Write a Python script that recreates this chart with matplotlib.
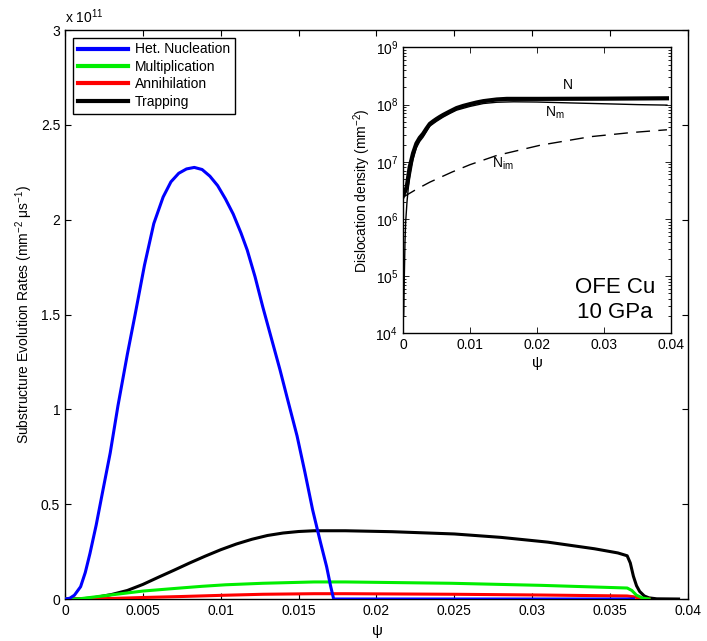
import numpy as np
from matplotlib import pyplot as plt
from matplotlib.ticker import LogLocator, NullFormatter

plt.rcParams['font.family'] = ['Liberation Sans', 'DejaVu Sans']
plt.rcParams['mathtext.fontset'] = 'custom'
plt.rcParams['mathtext.rm'] = 'Liberation Sans'
plt.rcParams['mathtext.it'] = 'Liberation Sans'

# main panel: rates in units of 1e11 mm^-2 us^-1
psi_het = [0, 0.0003, 0.0006, 0.001, 0.0013, 0.0016, 0.002, 0.0024, 0.0029, 0.0034,
           0.004, 0.0045, 0.0051, 0.0057, 0.0063, 0.0068, 0.0073, 0.0078, 0.0083,
           0.0088, 0.0093, 0.0098, 0.0103, 0.0108, 0.0113, 0.0117, 0.0122, 0.0127,
           0.0133, 0.0138, 0.0143, 0.0149, 0.0154, 0.0159, 0.0164, 0.0168, 0.01705,
           0.01725, 0.0365]
het = [0, 0.004, 0.02, 0.065, 0.14, 0.24, 0.39, 0.56, 0.77, 1.02,
       1.29, 1.50, 1.76, 1.98, 2.12, 2.20, 2.245, 2.268, 2.276,
       2.265, 2.23, 2.18, 2.11, 2.03, 1.93, 1.84, 1.70, 1.54,
       1.36, 1.21, 1.05, 0.86, 0.67, 0.47, 0.30, 0.17, 0.07,
       0, 0]

psi_mult = [0, 0.0008, 0.0016, 0.0029, 0.004, 0.005, 0.0062, 0.0074, 0.0088, 0.0103,
            0.0127, 0.016, 0.018, 0.0248, 0.0306, 0.0361, 0.0364, 0.0367, 0.0371, 0.0375]
mult = [0, 0, 0.008, 0.021, 0.032, 0.042, 0.050, 0.058, 0.067, 0.075,
        0.083, 0.09, 0.09, 0.083, 0.072, 0.058, 0.045, 0.02, 0.005, 0]

psi_ann = [0, 0.0015, 0.003, 0.005, 0.0074, 0.0103, 0.0127, 0.016, 0.018, 0.025,
           0.0306, 0.0361, 0.0365, 0.0369, 0.0375]
ann = [0, 0, 0.003, 0.008, 0.013, 0.02, 0.025, 0.028, 0.028, 0.025,
       0.021, 0.016, 0.012, 0.004, 0]

psi_trap = [0, 0.001, 0.0015, 0.002, 0.003, 0.004, 0.005, 0.006, 0.007, 0.008,
            0.009, 0.010, 0.011, 0.012, 0.013, 0.014, 0.015, 0.016, 0.018, 0.021,
            0.025, 0.028, 0.031, 0.034, 0.0355, 0.0361, 0.0363, 0.0365, 0.0367,
            0.0369, 0.0372, 0.0375, 0.038, 0.0394]
trap = [0, 0.001, 0.004, 0.009, 0.024, 0.045, 0.077, 0.115, 0.152, 0.19,
        0.226, 0.26, 0.29, 0.315, 0.335, 0.348, 0.356, 0.36, 0.36, 0.355,
        0.343, 0.325, 0.30, 0.265, 0.243, 0.228, 0.19, 0.12, 0.07,
        0.04, 0.016, 0.006, 0.001, 0]

# inset: dislocation densities (mm^-2)
psi_N = [0, 0.00055, 0.001, 0.0015, 0.002, 0.0025, 0.003, 0.0035, 0.004, 0.0045,
         0.005, 0.0055, 0.006, 0.007, 0.008, 0.009, 0.010, 0.011, 0.012, 0.013,
         0.014, 0.0155, 0.0204, 0.03, 0.0394]
N = [2.5e6, 3.6e6, 8.1e6, 1.41e7, 2.09e7, 2.63e7, 3.09e7, 3.8e7, 4.6e7, 5.1e7,
     5.6e7, 6.1e7, 6.6e7, 7.6e7, 8.7e7, 9.5e7, 1.02e8, 1.09e8, 1.15e8, 1.19e8,
     1.23e8, 1.26e8, 1.26e8, 1.27e8, 1.29e8]

psi_Nm = [0.0001, 0.0002, 0.0003, 0.0004, 0.0006, 0.0008, 0.001, 0.0015, 0.002, 0.0025,
          0.003, 0.004, 0.005, 0.006, 0.007, 0.008, 0.010, 0.012, 0.014, 0.0165,
          0.020, 0.025, 0.030, 0.035, 0.0394]
Nm = [2.0e4, 1.0e5, 4.0e5, 8.9e5, 2.0e6, 3.55e6, 5.2e6, 1.1e7, 1.76e7, 2.27e7,
      2.7e7, 4.2e7, 5.1e7, 6.05e7, 7.0e7, 8.0e7, 9.3e7, 1.045e8, 1.10e8, 1.12e8,
      1.11e8, 1.07e8, 1.035e8, 1.0e8, 9.8e7]

psi_Nim = [0, 0.0005, 0.002, 0.004, 0.0073, 0.010, 0.014, 0.0205, 0.028, 0.034, 0.0394]
Nim = [2.4e6, 2.6e6, 3.3e6, 4.4e6, 6.6e6, 8.9e6, 1.29e7, 1.95e7, 2.75e7, 3.24e7, 3.63e7]

fig = plt.figure(figsize=(7.07, 6.41), dpi=100)
ax = fig.add_axes([0.092, 0.0655, 0.881, 0.8875])

ax.plot(psi_trap, trap, color='k', lw=2.2, label='Trapping', zorder=2)
ax.plot(psi_ann, ann, color='r', lw=2.2, label='Annihilation', zorder=3)
ax.plot(psi_mult, mult, color='#00ee00', lw=2.2, label='Multiplication', zorder=3)
ax.plot(psi_het, het, color='b', lw=2.2, label='Het. Nucleation', zorder=4)

ax.set_xlim(0, 0.04)
ax.set_ylim(0, 3)
ax.set_xticks(np.arange(0, 0.0401, 0.005))
ax.set_xticklabels(['0', '0.005', '0.01', '0.015', '0.02', '0.025', '0.03', '0.035', '0.04'])
ax.set_yticks(np.arange(0, 3.01, 0.5))
ax.set_yticklabels(['0', '0.5', '1', '1.5', '2', '2.5', '3'])
ax.tick_params(direction='in', top=True, right=True, length=4, labelsize=10, width=0.8)
for s in ax.spines.values():
    s.set_linewidth(1.0)
ax.set_xlabel(r'$\psi$', fontsize=11)
ax.set_ylabel(r'Substructure Evolution Rates (mm$^{-2}$ $\mu$s$^{-1}$)', fontsize=10)
ax.text(0, 1.008, r'x 10$^{11}$', transform=ax.transAxes, ha='left', va='bottom', fontsize=10)

h, l = ax.get_legend_handles_labels()
order = [3, 2, 1, 0]
leg = ax.legend([h[i] for i in order], [l[i] for i in order], loc='upper left',
                bbox_to_anchor=(0.013, 0.987), borderaxespad=0, fancybox=False,
                framealpha=1, edgecolor='k', fontsize=10, handlelength=3.6,
                labelspacing=0.25, borderpad=0.35, handletextpad=0.5)
leg.get_frame().set_linewidth(1.0)
for line in leg.get_lines():
    line.set_linewidth(3)

# inset
ins = fig.add_axes([0.570, 0.480, 0.379, 0.446])
ins.semilogy(psi_N, N, color='k', lw=3)
ins.semilogy(psi_Nm, Nm, color='k', lw=1)
ins.semilogy(psi_Nim, Nim, color='k', lw=1, dashes=(10, 6))
ins.set_xlim(0, 0.04)
ins.set_ylim(1e4, 1e9)
ins.set_xticks([0, 0.01, 0.02, 0.03, 0.04])
ins.set_xticklabels(['0', '0.01', '0.02', '0.03', '0.04'])
ins.yaxis.set_minor_locator(LogLocator(base=10, subs=np.arange(2, 10)))
ins.yaxis.set_minor_formatter(NullFormatter())
ins.tick_params(which='both', direction='in', top=True, right=True, labelsize=10, width=0.6)
ins.tick_params(which='major', length=4)
ins.tick_params(which='minor', length=2)
for s in ins.spines.values():
    s.set_linewidth(1.0)
ins.set_xlabel(r'$\psi$', fontsize=11, labelpad=2)
ins.set_ylabel(r'Dislocation density (mm$^{-2}$)', fontsize=10, labelpad=2)

ins.text(0.0246, 2.2e8, 'N', fontsize=10, ha='center', va='center')
ins.text(0.0227, 7.1e7, r'N$_{\rm m}$', fontsize=10, ha='center', va='center')
ins.text(0.0149, 9.4e6, r'N$_{\rm im}$', fontsize=10, ha='center', va='center')
ins.text(0.79, 0.115, 'OFE Cu\n10 GPa', transform=ins.transAxes, fontsize=16,
         ha='center', va='center', linespacing=1.25)

plt.savefig('out.png', dpi=100)
